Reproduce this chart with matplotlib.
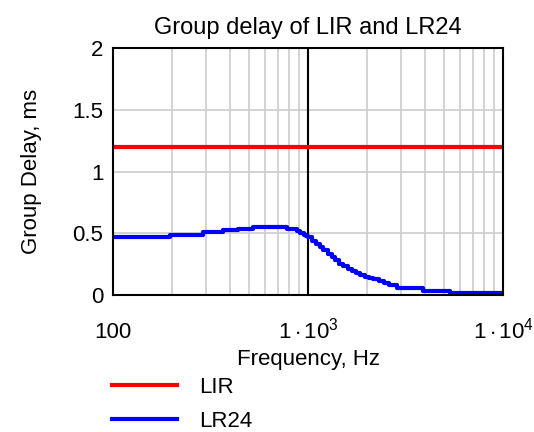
import matplotlib
matplotlib.use("Agg")
import matplotlib.pyplot as plt

plt.rcParams['font.family'] = ['Liberation Sans', 'DejaVu Sans']
plt.rcParams['mathtext.fontset'] = 'custom'
plt.rcParams['mathtext.rm'] = 'Liberation Sans'
plt.rcParams['mathtext.it'] = 'Liberation Sans'

# group delay values (ms)
lir_freq = [100, 10000]
lir_delay = [1.2, 1.2]

lr24_freq = [100, 196, 290, 368, 439, 524, 779, 875, 910, 950, 980,
             1000, 1050, 1100, 1150, 1200, 1260, 1320, 1380, 1450, 1520,
             1600, 1680, 1760, 1850, 1950, 2050, 2150, 2300, 2450, 2600,
             2850, 3900, 5340, 10000]
lr24_delay = [0.467, 0.486, 0.507, 0.524, 0.534, 0.553, 0.534, 0.52, 0.505,
              0.49, 0.478, 0.467, 0.44, 0.415, 0.39, 0.365, 0.335, 0.305,
              0.28, 0.255, 0.235, 0.213, 0.195, 0.178, 0.162, 0.15, 0.138,
              0.126, 0.112, 0.1, 0.085, 0.054, 0.035, 0.018, 0.018]

fig = plt.figure(figsize=(5.34, 4.32), dpi=100)
ax = fig.add_axes([0.2116, 0.317, 0.7304, 0.572])

ax.plot(lir_freq, lir_delay, color='#ff0000', lw=3, label='LIR')
ax.plot(lr24_freq, lr24_delay, color='#0000ff', lw=3, drawstyle='steps-post',
        label='LR24')

ax.set_xscale('log')
ax.set_xlim(100, 10000)
ax.set_ylim(0, 2)

ax.set_xticks([100, 1000, 10000])
ax.set_xticklabels(['100', r'$\mathrm{1\cdot10^{3}}$', r'$\mathrm{1\cdot10^{4}}$'])
ax.set_xticks([], minor=True)
ax.set_yticks([0, 0.5, 1, 1.5, 2])
ax.set_yticklabels(['0', '0.5', '1', '1.5', '2'])
ax.tick_params(length=0, labelsize=16)
ax.tick_params(axis='y', pad=7)
ax.tick_params(axis='x', pad=31)
for lab in ax.get_xticklabels():
    lab.set_va('baseline')

# grid lines
for d in [100, 1000]:
    for k in range(2, 10):
        ax.axvline(d * k, color='#cccccc', lw=1.2, zorder=0)
ax.axvline(1000, color='black', lw=1.5, zorder=0.5)
for yv in [0.5, 1, 1.5]:
    ax.axhline(yv, color='#cccccc', lw=1.2, zorder=0)

for s in ax.spines.values():
    s.set_linewidth(1.5)

ax.set_title('Group delay of LIR and LR24', fontsize=17, pad=10)
ax.set_xlabel('Frequency, Hz', fontsize=16, labelpad=4)
ax.set_ylabel('Group Delay, ms', fontsize=16, labelpad=22)

fig.legend(loc='upper left', bbox_to_anchor=(0.21, 0.127), frameon=False,
           fontsize=16, handlelength=2.9, handletextpad=1.0, labelspacing=0.58,
           borderpad=0, borderaxespad=0)

fig.savefig('out.png', dpi=100)
